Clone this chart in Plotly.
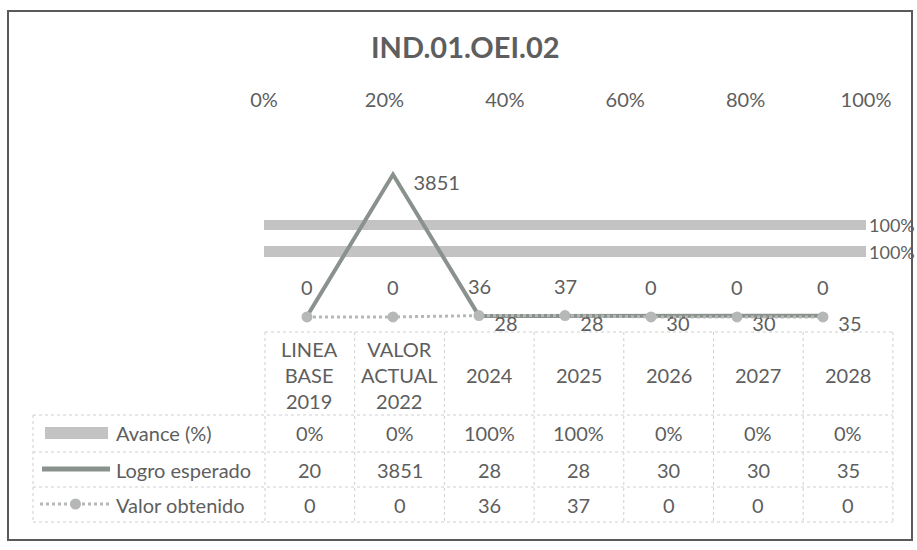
import plotly.graph_objects as go

# ---------------- data ----------------
categorias = ["LINEA BASE 2019", "VALOR ACTUAL 2022", "2024", "2025", "2026", "2027", "2028"]
encabezados = ["LINEA<br>BASE<br>2019", "VALOR<br>ACTUAL<br>2022", "2024", "2025", "2026", "2027", "2028"]
avance = [0, 0, 1, 1, 0, 0, 0]
logro_esperado = [20, 3851, 28, 28, 30, 30, 35]
valor_obtenido = [0, 0, 36, 37, 0, 0, 0]
pct_ticks = [0, 0.2, 0.4, 0.6, 0.8, 1.0]

# ---------------- style ----------------
FONT = "Lato"
TXT = "#5e5e5e"
BAR_C = "#c3c3c3"
LOGRO_C = "#8a928d"
VALOR_C = "#b5b8b6"
GRID_C = "#cfcfcf"
FS = 20
NB = "\u00a0"

W, H = 917, 550
L, R, T, B = 264, 866, 132, 332  # plot area in pixels


def xp(px):
    return (px - L) / (R - L)


def yp(py):
    return (B - py) / (B - T)


fig = go.Figure()

# Avance bars (horizontal) on base axes x / y
fig.add_trace(go.Bar(
    x=avance, y=categorias, orientation="h",
    marker=dict(color=BAR_C, line=dict(width=0)),
    width=0.38,
    text=[f"{v:.0%}" if v else "" for v in avance],
    textposition="outside", cliponaxis=False, constraintext="none",
    textfont=dict(family=FONT, size=18, color=TXT),
    xaxis="x", yaxis="y", showlegend=False, name="Avance (%)",
))

# Logro esperado line on overlay axes
logro_txt = [""] + [(NB * 4 if v > 1000 else NB * 3) + str(v) for v in logro_esperado[1:]]
fig.add_trace(go.Scatter(
    x=categorias, y=logro_esperado, mode="lines+text",
    line=dict(color=LOGRO_C, width=4),
    text=logro_txt,
    textposition="bottom right", cliponaxis=True,
    textfont=dict(family=FONT, size=FS, color=TXT),
    xaxis="x2", yaxis="y2", showlegend=False, name="Logro esperado",
))

# Valor obtenido dotted line with markers
fig.add_trace(go.Scatter(
    x=categorias, y=valor_obtenido, mode="lines+markers",
    line=dict(color=VALOR_C, width=3, dash="dot"),
    marker=dict(color=VALOR_C, size=11),
    cliponaxis=False,
    xaxis="x2", yaxis="y2", showlegend=False, name="Valor obtenido",
))

annotations = []
for i, v in enumerate(valor_obtenido):
    annotations.append(dict(x=i, y=v, xref="x2", yref="y2", text=str(v), showarrow=False,
                            xanchor="center", yanchor="middle",
                            yshift=30, font=dict(family=FONT, size=FS, color=TXT)))


def ann(px, py, text, xanchor="center", size=FS):
    annotations.append(dict(x=xp(px), y=yp(py), xref="paper", yref="paper", text=text, showarrow=False,
                            xanchor=xanchor, yanchor="middle", align="center",
                            font=dict(family=FONT, size=size, color=TXT)))


# title
ann(465, 46, "<b>IND.01.OEI.02</b>", size=29)

shapes = []
# outer frame
shapes.append(dict(type="rect", xref="paper", yref="paper", x0=xp(8), x1=xp(912), y0=yp(11), y1=yp(540),
                   line=dict(color="#5a5a5a", width=2), layer="below"))

# data table
col0, colw = 265, 89.7
cols = [col0 + i * colw for i in range(len(categorias) + 1)]
rows = [332, 415, 452, 487, 522]
leg_left = 33


def hline(x0, x1, y):
    shapes.append(dict(type="line", xref="paper", yref="paper", x0=xp(x0), x1=xp(x1), y0=yp(y), y1=yp(y),
                       line=dict(color=GRID_C, width=1, dash="dot")))


def vline(x, y0, y1):
    shapes.append(dict(type="line", xref="paper", yref="paper", x0=xp(x), x1=xp(x), y0=yp(y0), y1=yp(y1),
                       line=dict(color=GRID_C, width=1, dash="dot")))


hline(cols[0], cols[-1], rows[0])
for r in rows[1:]:
    hline(leg_left, cols[-1], r)
for c in cols:
    vline(c, rows[0], rows[-1])
vline(leg_left, rows[1], rows[-1])

# header cells
for i, h in enumerate(encabezados):
    cx = (cols[i] + cols[i + 1]) / 2
    ann(cx, (rows[0] + rows[1]) / 2 + 1, h)

row_vals = [
    [f"{v:.0%}" for v in avance],
    [str(v) for v in logro_esperado],
    [str(v) for v in valor_obtenido],
]
row_names = ["Avance (%)", "Logro esperado", "Valor obtenido"]
for r, (name, vals) in enumerate(zip(row_names, row_vals)):
    cy = (rows[r + 1] + rows[r + 2]) / 2
    for i, t in enumerate(vals):
        cx = (cols[i] + cols[i + 1]) / 2
        ann(cx, cy, t)
    ann(114, cy, name, xanchor="left")

# legend keys inside table
shapes.append(dict(type="rect", xref="paper", yref="paper", x0=xp(45), x1=xp(108), y0=yp(427), y1=yp(439),
                   fillcolor=BAR_C, line=dict(width=0)))
shapes.append(dict(type="line", xref="paper", yref="paper", x0=xp(42), x1=xp(110), y0=yp(469), y1=yp(469),
                   line=dict(color=LOGRO_C, width=5)))
shapes.append(dict(type="line", xref="paper", yref="paper", x0=xp(40), x1=xp(110), y0=yp(504), y1=yp(504),
                   line=dict(color=VALOR_C, width=3, dash="dot")))
shapes.append(dict(type="circle", xref="paper", yref="paper", x0=xp(70), x1=xp(81), y0=yp(498.5), y1=yp(509.5),
                   fillcolor=VALOR_C, line=dict(width=0)))

fig.update_layout(
    width=W, height=H,
    margin=dict(l=L, r=W - R, t=T, b=H - B, pad=0),
    paper_bgcolor="white", plot_bgcolor="rgba(0,0,0,0)",
    font=dict(family=FONT, size=FS, color=TXT),
    bargap=0,
    xaxis=dict(range=[0, 1], side="top", tickvals=pct_ticks, tickformat=".0%", showgrid=False,
               zeroline=False, showline=False, ticks="outside", ticklen=16, tickcolor="rgba(0,0,0,0)",
               tickfont=dict(family=FONT, size=FS, color=TXT), fixedrange=True),
    yaxis=dict(type="category", categoryorder="array", categoryarray=categorias, range=[-1.03, 6.5],
               visible=False, fixedrange=True),
    xaxis2=dict(type="category", categoryorder="array", categoryarray=categorias, range=[-0.5, 6.5],
                overlaying="x", side="bottom", visible=False, fixedrange=True),
    yaxis2=dict(range=[-407, 5000], overlaying="y", side="left", visible=False, fixedrange=True),
    annotations=annotations,
    shapes=shapes,
    showlegend=False,
)

fig.write_html("out.html", config={"displayModeBar": False},
               post_script="document.body.style.margin='0px';")
